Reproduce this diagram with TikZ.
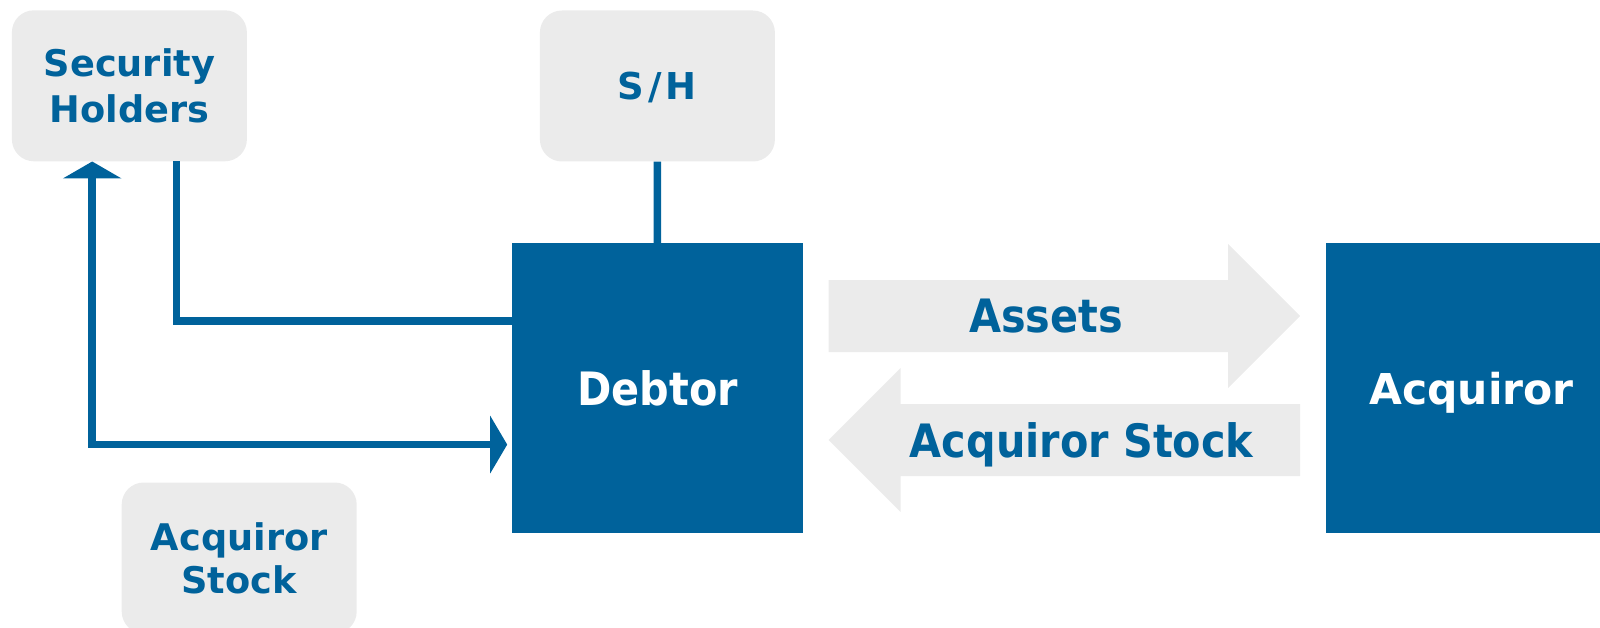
\documentclass[tikz,border=0pt]{standalone}
\usepackage{fontspec}
\setmainfont{DejaVu Sans}
\newfontfamily\condb{DejaVu Sans}[FakeStretch=0.9]
\usetikzlibrary{arrows.meta,calc}
\definecolor{dblue}{HTML}{00629B}
\definecolor{lgrey}{HTML}{EBEBEB}
\begin{document}
\begin{tikzpicture}[x=1pt,y=-1pt,
  greybox/.style={fill=lgrey, rounded corners=22pt, minimum width=235pt, minimum height=151pt,
    inner sep=0pt, text=dblue, align=center, text depth=0pt,
    font=\bfseries\fontsize{36.7}{46}\selectfont},
  bluebox/.style={fill=dblue, minimum width=291pt, minimum height=290pt, inner sep=0pt,
    text=white, text depth=0pt},
  arrowtext/.style={text=dblue, inner sep=0pt, text depth=0pt,
    font=\condb\bfseries\fontsize{46}{50}\selectfont},
  conn/.style={draw=dblue, line width=7.5pt}
]
\clip (0,0) rectangle (1600,628);
% boxes
\node[greybox] (sec) at (129.4,85.8) {Security\\Holders};
\node[greybox, font=\bfseries\fontsize{37}{41}\selectfont] (sh) at (657.4,86) {S\kern4pt/\kern4pt H};
\node[greybox, font=\bfseries\fontsize{36.7}{43}\selectfont] (acqstk) at (239.2,558) {Acquiror\\Stock};
\node[bluebox, font=\condb\bfseries\fontsize{46}{50}\selectfont] (debtor) at (657.5,388) {Debtor};
\node[bluebox, font=\bfseries\fontsize{42.5}{46}\selectfont] (acq) at (1471.5,388) {Acquiror};
% grey arrows
\fill[lgrey] (828.6,280) -- (1228,280) -- (1228,244) -- (1300,316) -- (1228,388) -- (1228,352) -- (828.6,352) -- cycle;
\node[arrowtext] (assets) at (1046,316) {Assets};
\fill[lgrey] (1300,404) -- (900.5,404) -- (900.5,368) -- (828.6,440) -- (900.5,512) -- (900.5,476) -- (1300,476) -- cycle;
\node[arrowtext] (stk) at (1081.6,440) {Acquiror Stock};
% connectors
\draw[conn] (sh) -- (debtor);
\coordinate (k1) at (176.4,321);
\draw[conn] (sec.south -| k1) |- (debtor.west |- k1);
\coordinate (k2) at (92.2,444.6);
\draw[conn, {Triangle[width=58pt,length=17pt]}-{Triangle[width=57pt,length=17pt]}, shorten >=4.6pt]
  (sec.south -| k2) |- (debtor.west |- k2);
\end{tikzpicture}
\end{document}
